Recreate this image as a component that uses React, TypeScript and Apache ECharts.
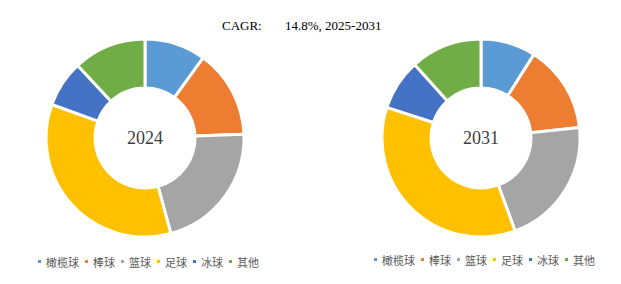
import React, { useEffect, useRef } from "react";
import * as echarts from "echarts";

const categories = ["橄榄球", "棒球", "篮球", "足球", "冰球", "其他"];
const values2024 = [10.0, 14.4, 21.4, 34.7, 7.6, 11.9];
const values2031 = [9.0, 14.3, 21.1, 35.6, 8.3, 11.7];
const colors = ["#5B9BD5", "#ED7D31", "#A5A5A5", "#FFC000", "#4472C4", "#70AD47"];
const titleLeft = "CAGR:";
const titleRight = "14.8%, 2025-2031";
const yearLabels = ["2024", "2031"];

export default function App() {
  const ref = useRef<HTMLDivElement>(null);
  useEffect(() => {
    if (!ref.current) return;
    const chart = echarts.init(ref.current, null, { renderer: "svg" });
    const mkData = (vals: number[]) =>
      categories.map((name, i) => ({ name, value: vals[i], itemStyle: { color: colors[i] } }));
    const pie = (vals: number[], center: [number, number], year: string) => ({
      type: "pie",
      radius: [50, 99],
      center,
      startAngle: 90,
      clockwise: true,
      avoidLabelOverlap: false,
      label: {
        show: true,
        position: "center",
        formatter: () => year,
        fontFamily: "Liberation Serif",
        fontSize: 18,
        color: "#404040",
      },
      labelLine: { show: false },
      emphasis: { disabled: true },
      itemStyle: { borderColor: "#ffffff", borderWidth: 3 },
      data: mkData(vals),
    });
    const legendBase = {
      orient: "horizontal",
      icon: "rect",
      itemWidth: 5,
      itemHeight: 5,
      itemGap: 4,
      data: categories,
      textStyle: { fontFamily: "Noto Sans CJK SC", fontSize: 11, color: "#595959", padding: [0, 0, 0, -1] },
      padding: 0,
      selectedMode: false,
    };
    chart.setOption({
      animation: false,
      backgroundColor: "#ffffff",
      legend: [
        { ...legendBase, left: 36, top: 256 },
        { ...legendBase, left: 372, top: 254 },
      ],
      graphic: [
        {
          type: "text",
          left: 222,
          top: 19,
          style: { text: titleLeft, font: "13px 'Liberation Serif'", fill: "#000000" },
        },
        {
          type: "text",
          left: 285,
          top: 19,
          style: { text: titleRight, font: "13px 'Liberation Serif'", fill: "#000000" },
        },
      ],
      series: [
        pie(values2024, [145, 138], yearLabels[0]),
        pie(values2031, [481, 138], yearLabels[1]),
      ],
    });
    return () => chart.dispose();
  }, []);
  return <div ref={ref} style={{ width: 621, height: 284, position: "absolute", left: 0, top: 0 }} />;
}
